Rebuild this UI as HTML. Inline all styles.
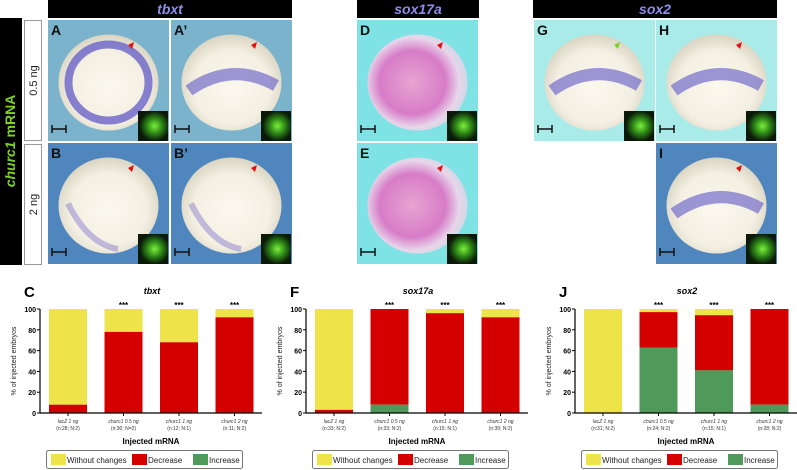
<!DOCTYPE html>
<html><head><meta charset="utf-8"><style>
body{margin:0;background:#fff;width:797px;height:470px;overflow:hidden;font-family:"Liberation Sans",sans-serif}
svg{display:block}
</style></head><body>
<svg id="fig" width="797" height="470" viewBox="0 0 797 470">
<defs>
<radialGradient id="egg" cx="50%" cy="55%" r="55%"><stop offset="0" stop-color="#fbf8ee"/><stop offset="0.7" stop-color="#f3efe2"/><stop offset="1" stop-color="#d9d4c2"/></radialGradient>
<radialGradient id="pinkegg" cx="45%" cy="50%" r="55%"><stop offset="0" stop-color="#e7a4d0"/><stop offset="0.6" stop-color="#d77cc8"/><stop offset="0.85" stop-color="#e8d6ea"/><stop offset="1" stop-color="#cfd8e6"/></radialGradient>
<radialGradient id="gfp" cx="55%" cy="50%" r="50%"><stop offset="0" stop-color="#7cf03a"/><stop offset="0.5" stop-color="#2e8a18"/><stop offset="1" stop-color="#0b1a08"/></radialGradient>
</defs>
<g id="photos"></g>
<g id="charts"></g>
</svg>
<script>
// ---- chart data ----
const categories = ["lacZ 1 ng","churc1 0.5 ng","churc1 1 ng","churc1 2 ng"];
const nLabels_tbxt = ["(n:28; N:2)","(n:30; N=2)","(n:12; N:1)","(n:11; N:2)"];
const nLabels_sox17a = ["(n:33; N:2)","(n:33; N:2)","(n:15; N:1)","(n:39; N:2)"];
const nLabels_sox2 = ["(n:31; N:2)","(n:24; N:2)","(n:15; N:1)","(n:28; N:2)"];
const tbxtDecrease = [8,78,68,92];
const tbxtIncrease = [0,0,0,0];
const sox17aDecrease = [3,92,96,92];
const sox17aIncrease = [0,8,0,0];
const sox2Decrease = [0,34,53,92];
const sox2Increase = [0,63,41,8];
const yTicks = [0,20,40,60,80,100];
const signif = ["","***","***","***"];

const NS="http://www.w3.org/2000/svg";
function el(tag,attrs,parent,text){const e=document.createElementNS(NS,tag);for(const k in attrs)e.setAttribute(k,attrs[k]);if(text!==undefined)e.textContent=text;parent.appendChild(e);return e;}

// ---- photos ----
const P=document.getElementById('photos');
function blk(x,y,w,h,name,label,color){
  const r=el('rect',{x:x,y:y,width:w,height:h,fill:'#000'},P);
  
  
  if(label){const t=el('text',{x:x+w/2,y:y+h/2+5,'text-anchor':'middle','font-size':14,'font-weight':'bold','font-style':'italic',fill:color},P,label);
  
  }
}
blk(48,0,244,18,'tbxt-header','tbxt','#8f8ee8');
blk(357,0,122,18,'sox17a-header','sox17a','#8f8ee8');
blk(533,0,244,18,'sox2-header','sox2','#8f8ee8');
const side=el('rect',{x:0,y:18,width:22,height:247,fill:'#000'},P);


const st=el('text',{x:15,y:141,'text-anchor':'middle','font-size':14,'font-weight':'bold',fill:'#7ed321',transform:'rotate(-90 15 141)'},P);


st.innerHTML='<tspan font-style="italic">churc1</tspan> mRNA';
[[20,141,'0.5 ng'],[144,265,'2 ng']].forEach(([y0,y1,t])=>{
  const r=el('rect',{x:24.5,y:y0+0.5,width:17,height:y1-y0-1,fill:'#fff',stroke:'#999'},P);
  
  
  const cy=(y0+y1)/2;
  const tt=el('text',{x:37,y:cy,'text-anchor':'middle','font-size':11,fill:'#222',transform:`rotate(-90 37 ${cy})`},P,t);
  
  
});
const panels=[
 [48,20,'A','#7ab3cb','egg','ring'],[171,20,'A\u2019','#7ab3cb','egg','band'],
 [48,143,'B','#4f86bd','egg','faint'],[171,143,'B\u2019','#4f86bd','egg','faint'],
 [357,20,'D','#7fe3e6','pinkegg',''],[357,143,'E','#7fe3e6','pinkegg',''],
 [534,20,'G','#a9ebe8','egg','band'],[656,20,'H','#a9ebe8','egg','band'],[656,143,'I','#4f86bd','egg','band']];
panels.forEach(([x,y,L,bg,g,m])=>{
  const w=121,h=121;
  const r=el('rect',{x:x,y:y,width:w,height:h,fill:bg},P);
  
  
  el('ellipse',{cx:x+w/2,cy:y+h/2+2,rx:50,ry:48,fill:'url(#'+g+')'},P);
  if(m==='ring') el('ellipse',{cx:x+w/2,cy:y+h/2+2,rx:40,ry:38,fill:'none',stroke:'#6a63c8','stroke-width':8,opacity:0.8},P);
  if(m==='band') el('path',{d:`M${x+18} ${y+h/2+10} Q${x+w/2} ${y+h/2-20} ${x+w-16} ${y+h/2+5}`,fill:'none',stroke:'#6a63c8','stroke-width':12,opacity:0.65},P);
  if(m==='faint') el('path',{d:`M${x+20} ${y+h/2} Q${x+40} ${y+h-20} ${x+70} ${y+h-15}`,fill:'none',stroke:'#8a80d0','stroke-width':6,opacity:0.5},P);
  const t=el('text',{x:x+3,y:y+15,'font-size':14,'font-weight':'bold',fill:'#111'},P,L);
  
  
  el('rect',{x:x+90,y:y+91,width:30,height:30,fill:'url(#gfp)'},P);
  el('path',{d:`M${x+4} ${y+109}h14M${x+4} ${y+105}v8M${x+18} ${y+105}v8`,stroke:'#111','stroke-width':1.5,fill:'none'},P);
  el('path',{d:`M${x+86} ${y+22}l-6 3l4 4z`,fill:L==='G'?'#7ed321':'#e01010'},P);
});

// ---- charts ----
const C=document.getElementById('charts');
function chart(ax,title,letter,dec,inc,nl){
  const y0=413,y100=309;
  const yS=v=>y0-(v/100)*(y0-y100);
  const bx=i=>ax+9+i*55.5, bw=38;
  const g=el('g',{},C);
  
  
  const lt=el('text',{x:ax-16,y:297,'font-size':15,'font-weight':'bold'},g,letter);
  
  
  const tt=el('text',{x:ax+112,y:294,'text-anchor':'middle','font-size':9,'font-weight':'bold','font-style':'italic'},g,title);
  
  
  categories.forEach((c,i)=>{
    const wc=100-dec[i]-inc[i];
    const r1=el('rect',{x:bx(i),y:yS(100),width:bw,height:yS(inc[i]+dec[i])-yS(100),fill:'#efe34a'},g);
    
    
    const r2=el('rect',{x:bx(i),y:yS(inc[i]+dec[i]),width:bw,height:yS(inc[i])-yS(inc[i]+dec[i]),fill:'#d40000'},g);
    
    
    const r3=el('rect',{x:bx(i),y:yS(inc[i]),width:bw,height:yS(0)-yS(inc[i]),fill:'#4f9a5a'},g);
    
    
    const s=el('text',{x:bx(i)+bw/2,y:yS(100)-1,'text-anchor':'middle','font-size':8,'font-weight':'bold'},g,signif[i]);
    
    
    const l1=el('text',{x:bx(i)+bw/2,y:423,'text-anchor':'middle','font-size':5,'font-style':'italic',fill:'#333'},g,c);
    
    
    const l2=el('text',{x:bx(i)+bw/2,y:430,'text-anchor':'middle','font-size':5,fill:'#333'},g,nl[i]);
    
    
    el('line',{x1:bx(i)+bw/2,x2:bx(i)+bw/2,y1:y0,y2:y0+3,stroke:'#000'},g);
  });
  el('line',{x1:ax,x2:ax,y1:y100,y2:y0,stroke:'#000','stroke-width':1.2},g);
  el('line',{x1:ax,x2:ax+222,y1:y0,y2:y0,stroke:'#000','stroke-width':1.2},g);
  yTicks.forEach(v=>{
    el('line',{x1:ax-3,x2:ax,y1:yS(v),y2:yS(v),stroke:'#000'},g);
    const t=el('text',{x:ax-4,y:yS(v)+3,'text-anchor':'end','font-size':7,'font-weight':'bold'},g,v);
    
    
  });
  const yt=el('text',{x:ax-24,y:361,'text-anchor':'middle','font-size':7,fill:'#222',transform:`rotate(-90 ${ax-24} 361)`},g,'% of injected embryos');
  
  
  const xt=el('text',{x:ax+111,y:444,'text-anchor':'middle','font-size':8,'font-weight':'bold'},g,'Injected mRNA');
  
  
  const lx=ax+6;
  const lb=el('rect',{x:lx+0.5,y:450.5,width:196,height:18,fill:'#fff',stroke:'#777',rx:2},g);
  
  
  [['Without changes','#efe34a',2],['Decrease','#d40000',83],['Increase','#4f9a5a',144]].forEach(([n,c,o])=>{
    el('rect',{x:lx+o+3,y:454,width:15,height:11,fill:c},g);
    const t=el('text',{x:lx+o+19,y:463,'font-size':8,fill:'#222'},g,n);
    
    
  });
}
chart(40,'tbxt','C',tbxtDecrease,tbxtIncrease,nLabels_tbxt);
chart(306,'sox17a','F',sox17aDecrease,sox17aIncrease,nLabels_sox17a);
chart(575,'sox2','J',sox2Decrease,sox2Increase,nLabels_sox2);
</script>
</body></html>
